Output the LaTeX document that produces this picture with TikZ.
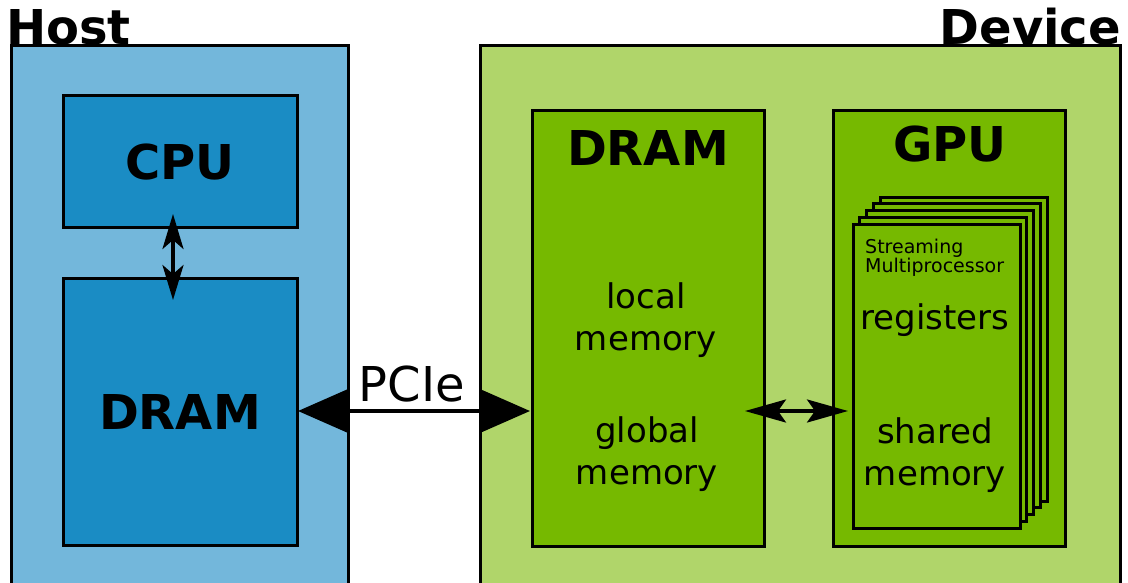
\documentclass[tikz,border=0pt]{standalone}
\usepackage{fontspec}
\setmainfont{DejaVu Sans}
\usetikzlibrary{arrows.meta}
\definecolor{hostbg}{RGB}{115,183,219}
\definecolor{hostin}{RGB}{26,140,196}
\definecolor{devbg}{RGB}{176,213,106}
\definecolor{devin}{RGB}{118,185,0}
\tikzset{
  box/.style={draw=black, line width=3pt, rectangle, inner sep=0pt, outer sep=0pt, anchor=north west},
  title/.style={font=\fontsize{48}{54}\selectfont\bfseries, inner sep=0pt},
  big/.style={font=\fontsize{48}{54}\selectfont\bfseries, inner sep=0pt},
  body/.style={font=\fontsize{34}{42}\selectfont, inner sep=0pt, align=center},
  small/.style={font=\fontsize{19}{19}\selectfont, inner sep=0pt, align=left},
}
\begin{document}
\begin{tikzpicture}[x=1pt,y=-1pt]
\useasboundingbox (0,0) rectangle (1128,582);
\clip (0,0) rectangle (1128,582);
% outer boxes
\node[box, fill=hostbg, minimum width=337pt, minimum height=560pt] (host) at (11,45) {};
\node[box, fill=devbg, minimum width=640pt, minimum height=560pt] (dev) at (480,45) {};
\node[title, anchor=base west] (hostlbl) at (6,44) {Host};
\node[title, anchor=base east] (devlbl) at (1121,44) {Device};
% host
\node[box, fill=hostin, minimum width=234pt, minimum height=132pt] (cpu) at (63,95) {};
\node[big, anchor=base] (cpulbl) at (180,179) {CPU};
\node[box, fill=hostin, minimum width=234pt, minimum height=267pt] (hdram) at (63,278) {};
\node[big, anchor=base] (hdramlbl) at (180,429) {DRAM};
% device dram
\node[box, fill=devin, minimum width=232pt, minimum height=436pt] (ddram) at (532,110) {};
\node[big, anchor=base] (ddramlbl) at (648,165) {DRAM};
\node[body] (local) at (646,320) {local\\memory};
\node[body] (global) at (647,454) {global\\memory};
% gpu
\node[box, fill=devin, minimum width=232pt, minimum height=436pt] (gpu) at (833,110) {};
\node[big, anchor=base] (gpulbl) at (950,161) {GPU};
\foreach \i in {4,3,2,1} {
  \node[box, fill=devin, minimum width=167pt, minimum height=304pt] (sm\i) at (853+6.75*\i,224-6.75*\i) {};
}
\node[box, fill=devin, minimum width=167pt, minimum height=304pt] (sm0) at (853,224) {};
\node[small, anchor=north west] (smlbl) at (865,239) {Streaming\\Multiprocessor};
\node[body, anchor=base] (regs) at (935,329) {registers};
\node[body] (shared) at (935,455) {shared\\memory};
% arrows
\coordinate (cpuarr) at (173,214);
\coordinate (dramarr) at (173,300);
\draw[line width=3.5pt, {Stealth[length=35pt,width=21pt,inset=9pt]}-{Stealth[length=35pt,width=21pt,inset=9pt]}] (cpuarr) -- (dramarr);
\coordinate (pcieL) at (298,411);
\coordinate (pcieR) at (530,411);
\draw[line width=3.5pt, {Triangle[length=50pt,width=43pt]}-{Triangle[length=50pt,width=43pt]}] (pcieL) -- (pcieR);
\node[font=\fontsize{48}{54}\selectfont, inner sep=0pt, anchor=base] (pcie) at (412,401) {PCIe};
\coordinate (gL) at (745,411);
\coordinate (gR) at (848,411);
\draw[line width=3.5pt, {Stealth[length=41pt,width=23pt,inset=8pt]}-{Stealth[length=41pt,width=23pt,inset=8pt]}] (gL) -- (gR);
\end{tikzpicture}
\end{document}
